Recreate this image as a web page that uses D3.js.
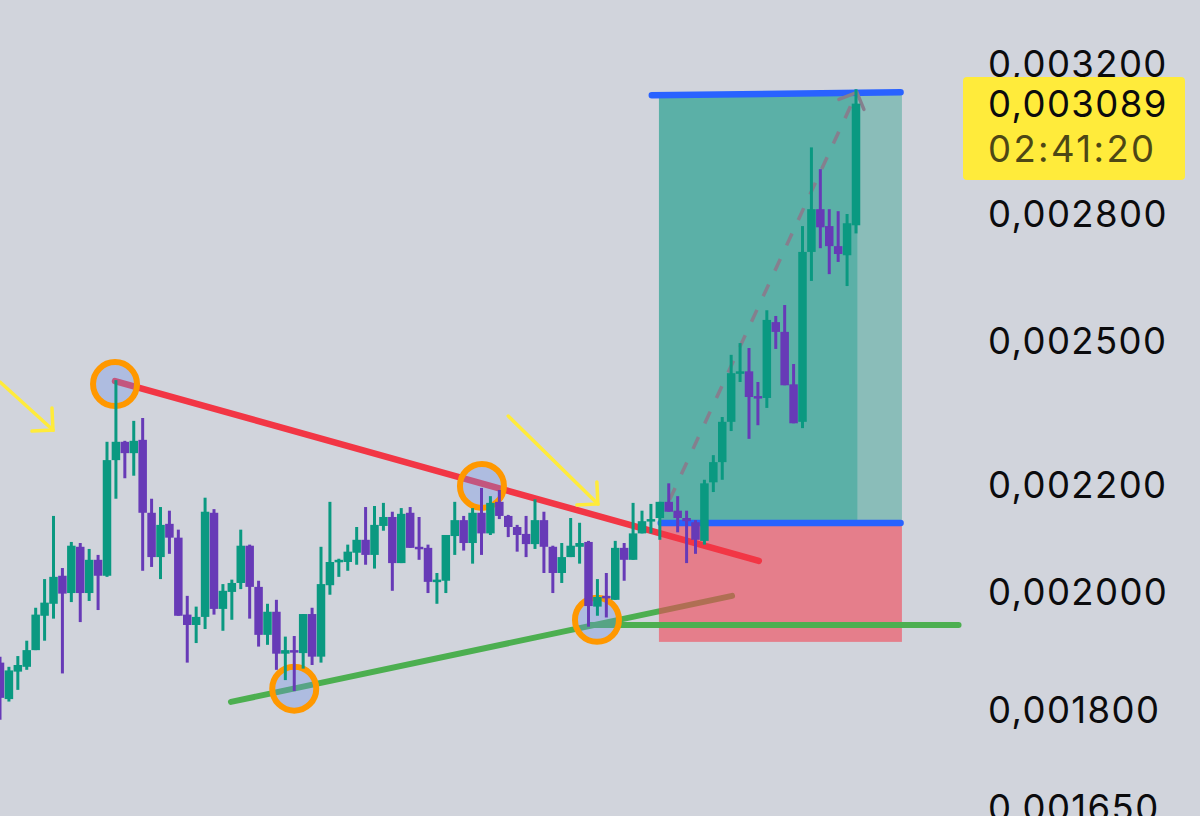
<!DOCTYPE html>
<html>
<head>
<meta charset="utf-8">
<script src="https://cdn.jsdelivr.net/npm/d3@7"></script>
<style>
  html, body { margin: 0; padding: 0; background: #d1d4dc; overflow: hidden; }
  svg { display: block; }
  text { font-family: Inter, Roboto, sans-serif; font-size: 36.5px; letter-spacing: 1.4px; }
</style>
</head>
<body>
<svg id="chart" width="1200" height="816"></svg>
<script>
// prices are in millionths (2000 = 0,002000)
const opens = [1878,1818,1863,1871,1899,1958,1979,2029,1998,2082,1998,2058,2029,2249,2286,2263,2290,2146,2063,2125,2099,1960,1942,1956,2146,1970,2000,2016,2084,2009,1925,1965,1893,1899,1894,1961,1888,2012,2054,2054,2071,2095,2067,2121,2138,2052,2146,2082,2080,2018,2020,2102,2132,2089,2146,2107,2167,2140,2119,2106,2087,2132,2082,2034,2063,2082,2091,1974,1993,1986,2080,2058,2107,2130,2136,2167,2150,2136,2128,2093,2205,2245,2327,2430,2434,2381,2377,2543,2521,2406,2327,2707,2812,2770,2721,2699,2772];
const highs = [1888,1871,1889,1915,1972,2023,2140,2043,2091,2089,2078,2067,2286,2415,2288,2329,2335,2173,2157,2150,2114,1993,1974,2175,2153,2014,2022,2114,2086,2020,1979,1986,1922,1923,1961,1972,2082,2167,2060,2086,2119,2157,2159,2165,2148,2155,2157,2138,2086,2034,2104,2167,2140,2155,2194,2178,2190,2142,2123,2140,2172,2148,2084,2089,2136,2127,2093,2023,2034,2093,2089,2165,2150,2163,2167,2203,2178,2150,2132,2210,2259,2337,2470,2496,2485,2411,2570,2557,2582,2450,2770,2971,2914,2812,2807,2800,3129];
const lows = [1785,1814,1833,1866,1899,1915,1953,1860,1982,1947,1984,1968,2027,2173,2213,2218,2038,2045,2023,2069,1958,1878,1911,1935,1960,1932,1951,2005,1953,1905,1908,1866,1849,1831,1868,1874,1878,1995,2027,2038,2049,2049,2042,2112,2002,2052,2080,2058,1998,1979,1998,2067,2075,2051,2067,2104,2134,2100,2073,2063,2078,2034,1998,2016,2063,2051,1939,1958,1955,1986,2020,2058,2107,2107,2095,2148,2109,2052,2069,2086,2186,2210,2308,2411,2292,2320,2356,2483,2404,2324,2314,2638,2716,2654,2683,2626,2752];
const closes = [1820,1865,1874,1899,1960,1981,2027,1997,2084,1998,2058,2029,2249,2286,2263,2288,2146,2063,2123,2099,1958,1942,1956,2148,1970,2002,2016,2084,2009,1925,1965,1893,1899,1896,1961,1888,2014,2054,2058,2073,2095,2067,2123,2138,2052,2144,2080,2080,2018,2022,2104,2132,2089,2146,2107,2165,2140,2119,2104,2087,2132,2082,2034,2063,2084,2089,1975,1991,1991,2080,2058,2107,2130,2134,2167,2148,2136,2130,2095,2203,2245,2327,2430,2434,2379,2377,2548,2521,2404,2324,2707,2812,2767,2721,2702,2777,3089];

const tickValues = [3200, 2800, 2500, 2200, 2000, 1800, 1650];
const tickLabels = ["0,003200", "0,002800", "0,002500", "0,002200", "0,002000", "0,001800", "0,001650"];
const lastPriceLabel = "0,003089";
const countdownLabel = "02:41:20";

// drawing tools, as [bar index, price]
const redLine = [[12.9, 2413], [85.1, 2056]];
const greenLine = [[25.9, 1813.5], [82.1, 1993]];
const stopLine = [[66.2, 1942], [107.5, 1942]];
const targetLine = [[73.1, 3112], [101, 3120.6]];
const entryLine = [[74.1, 2126.5], [101, 2126.5]];
const projection = [[75.1, 2171], [96.1, 3120]];
const circles = [[12.9, 2406.5], [54.05, 2198], [66.95, 1951], [33, 1835]];
const yellowArrows = [[[0, 2411], [5.94, 2310]], [[57, 2339], [67.05, 2163]]];
// position tool: left bar, last bar, right bar, target, entry, stop
const positionBars = [73.9, 96.2, 101.15];
const positionPrices = [3118, 2126.5, 1913];

const svg = d3.select("#chart");
const x = d3.scaleLinear().domain([0, 96]).range([0, 856]);
const y = d3.scaleLog().domain([1650, 3200]).range([808, 64]);
const pt = d => [x(d[0]), y(d[1])];
const linePath = d3.line().x(d => x(d[0])).y(d => y(d[1]));

const UP = "#0a9981";
const DOWN = "#673ab7";

// the rising green line sits under the position boxes, it shows brown through the red one
const under = svg.append("g").attr("fill", "none").attr("stroke-linecap", "round");
under.append("path").attr("d", linePath(greenLine)).attr("stroke", "#4caf50").attr("stroke-width", 6);

// position boxes
const box = svg.append("g");
box.append("rect")
  .attr("x", x(positionBars[0])).attr("y", y(positionPrices[0]))
  .attr("width", x(positionBars[1]) - x(positionBars[0]))
  .attr("height", y(positionPrices[1]) - y(positionPrices[0]))
  .attr("fill", "#5bb0a7");
box.append("rect")
  .attr("x", x(positionBars[1])).attr("y", y(positionPrices[0]))
  .attr("width", x(positionBars[2]) - x(positionBars[1]))
  .attr("height", y(positionPrices[1]) - y(positionPrices[0]))
  .attr("fill", "#8abdb9");
box.append("rect")
  .attr("x", x(positionBars[0])).attr("y", y(positionPrices[1]))
  .attr("width", x(positionBars[2]) - x(positionBars[0]))
  .attr("height", y(positionPrices[2]) - y(positionPrices[1]))
  .attr("fill", "#f24455").attr("fill-opacity", 0.6);

// trend lines
const lines = svg.append("g").attr("fill", "none").attr("stroke-linecap", "round");
lines.append("path").attr("d", linePath(stopLine)).attr("stroke", "#4caf50").attr("stroke-width", 6);
lines.append("path").attr("d", linePath(redLine)).attr("stroke", "#f23645").attr("stroke-width", 6.5);
lines.append("path").attr("d", linePath(targetLine)).attr("stroke", "#2962ff").attr("stroke-width", 6.5);
lines.append("path").attr("d", linePath(entryLine)).attr("stroke", "#2962ff").attr("stroke-width", 6.5);

// dashed projection arrow
const grey = "#857f8e";
lines.append("path").attr("d", linePath(projection))
  .attr("stroke", grey).attr("stroke-width", 3.5).attr("stroke-dasharray", "13 15").attr("stroke-linecap", "butt");
const tip = pt(projection[1]);
lines.append("path")
  .attr("d", d3.line()([[tip[0] - 18, tip[1] + 7], tip, [tip[0] + 7, tip[1] + 17]]))
  .attr("stroke", grey).attr("stroke-width", 3.5);

// yellow arrows
yellowArrows.forEach(a => {
  const end = pt(a[1]);
  lines.append("path").attr("d", linePath(a)).attr("stroke", "#ffeb3b").attr("stroke-width", 3.5);
  lines.append("path")
    .attr("d", d3.line()([[end[0] - 21, end[1] + 1], end, [end[0] - 1, end[1] - 22]]))
    .attr("stroke", "#ffeb3b").attr("stroke-width", 3.5);
});

// circles
svg.append("g").selectAll("circle").data(circles).join("circle")
  .attr("cx", d => x(d[0])).attr("cy", d => y(d[1])).attr("r", 22)
  .attr("fill", "rgba(109,143,231,0.35)")
  .attr("stroke", "#ff9800").attr("stroke-width", 6);

// candles
const candles = svg.append("g").selectAll("g").data(opens).join("g")
  .attr("fill", (d, i) => closes[i] >= d ? UP : DOWN)
  .attr("stroke", (d, i) => closes[i] >= d ? UP : DOWN);
candles.append("line")
  .attr("x1", (d, i) => x(i)).attr("x2", (d, i) => x(i))
  .attr("y1", (d, i) => y(highs[i])).attr("y2", (d, i) => y(lows[i]))
  .attr("stroke-width", 3);
candles.append("rect")
  .attr("stroke", "none")
  .attr("x", (d, i) => x(i) - 4.25)
  .attr("width", 8.5)
  .attr("y", (d, i) => y(Math.max(d, closes[i])))
  .attr("height", (d, i) => Math.max(2.5, Math.abs(y(d) - y(closes[i]))));

// price axis
const axis = d3.axisRight(y)
  .tickValues(tickValues)
  .tickSize(0)
  .tickPadding(0)
  .tickFormat((d, i) => tickLabels[i]);
const axisG = svg.append("g").attr("transform", "translate(988,1)").call(axis);
axisG.select(".domain").remove();
axisG.selectAll("text")
  .attr("fill", "#0b0b0d")
  .style("font-family", "Inter, Roboto, sans-serif")
  .style("font-size", "36.5px");

// last price label
svg.append("rect").attr("x", 963).attr("y", 77).attr("width", 222).attr("height", 103).attr("rx", 4).attr("fill", "#ffeb3b");
svg.append("text").attr("x", 988).attr("y", y(3089) + 2).attr("dy", "0.32em")
  .attr("fill", "#0b0b0d").text(lastPriceLabel);
svg.append("text").attr("x", 988).attr("y", 150).attr("dy", "0.32em")
  .attr("fill", "#4d4715").style("letter-spacing", "2.4px").text(countdownLabel);
</script>
</body>
</html>
